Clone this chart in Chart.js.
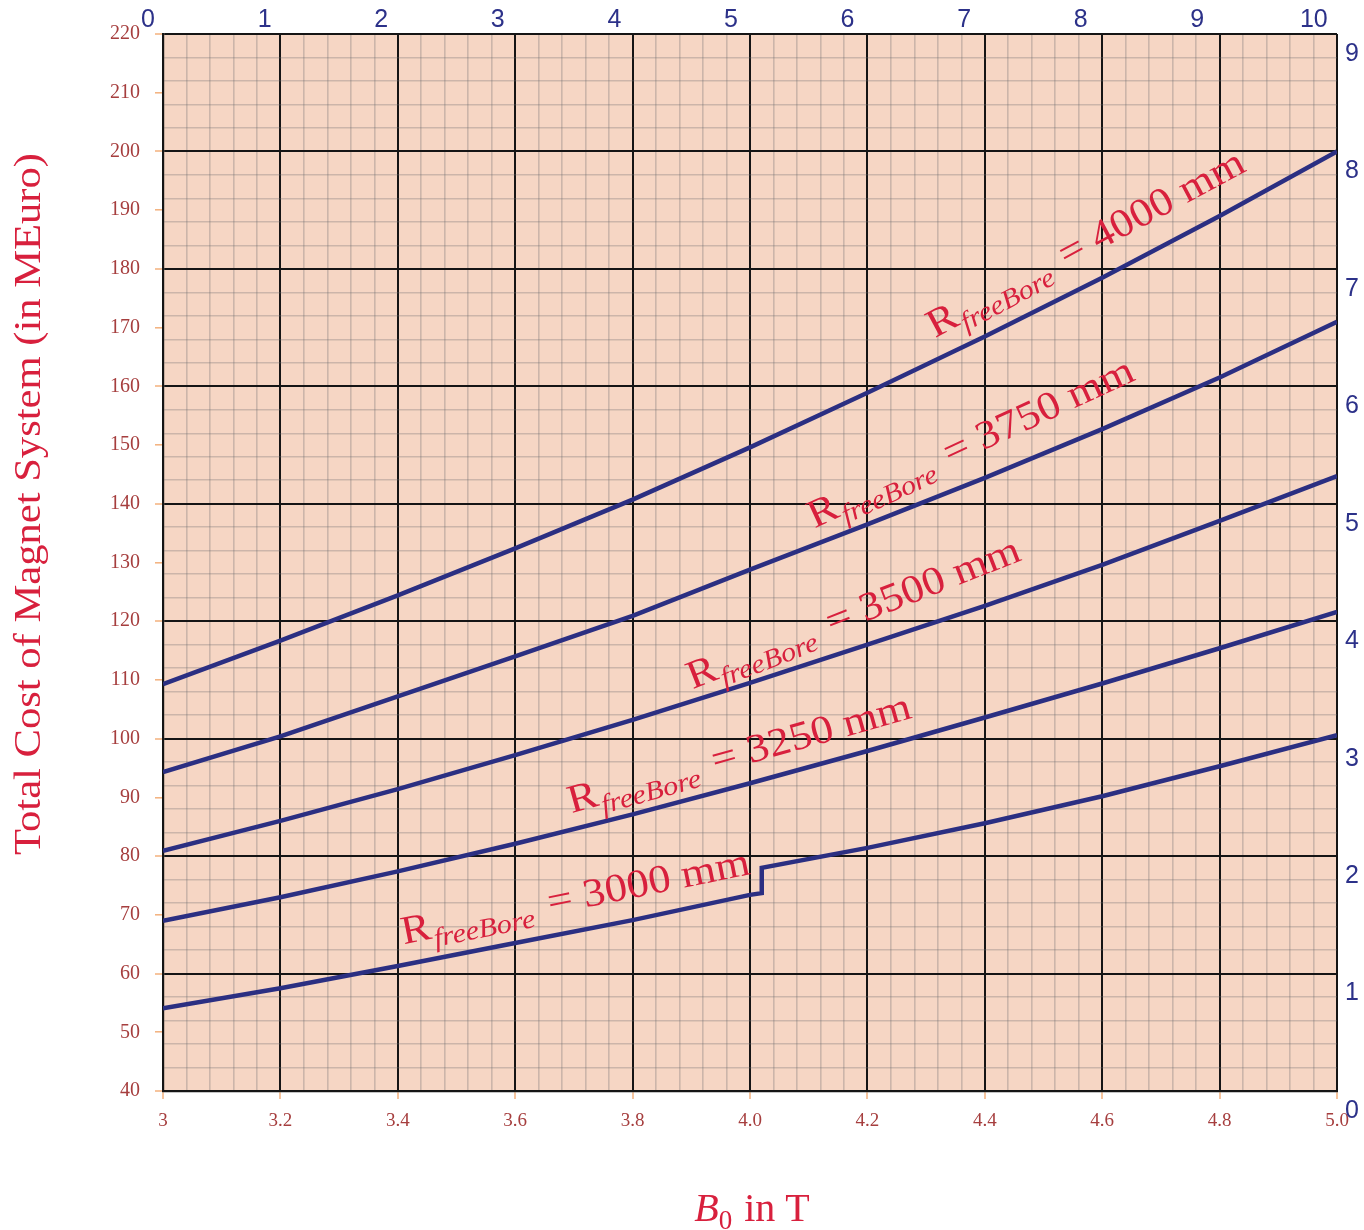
<!DOCTYPE html>
<html>
<head>
<meta charset="utf-8">
<title>Total Cost of Magnet System</title>
<script src="https://cdn.jsdelivr.net/npm/chart.js@4.4.1/dist/chart.umd.min.js"></script>
<style>
  html, body { margin: 0; padding: 0; background: #ffffff; }
  #wrap { width: 1364px; height: 1230px; }
</style>
</head>
<body>
<div id="wrap"><canvas id="chart" width="1364" height="1230"></canvas></div>
<script>
// Magnetic field B0 (T) sampled for each bore radius
const bField = [3.0, 3.2, 3.4, 3.6, 3.8, 4.0, 4.2, 4.4, 4.6, 4.8, 5.0];

// Total cost (MEuro) for each free bore radius
const cost4000 = [109.3, 116.7, 124.4, 132.4, 140.7, 149.6, 158.9, 168.5, 178.5, 189.0, 200.0];
const cost3750 = [94.3, 100.4, 107.2, 114.0, 120.9, 128.8, 136.5, 144.4, 152.7, 161.5, 171.0];
const cost3500 = [80.9, 86.0, 91.4, 97.2, 103.2, 109.5, 116.0, 122.6, 129.6, 137.1, 144.7];
const cost3250 = [69.0, 73.0, 77.4, 82.1, 87.1, 92.4, 97.9, 103.6, 109.4, 115.4, 121.6];

// The 3000 mm design jumps in cost just above 4 T
const bField3000 = [3.0, 3.2, 3.4, 3.6, 3.8, 4.0, 4.02, 4.02, 4.2, 4.4, 4.6, 4.8, 5.0];
const cost3000 = [54.1, 57.5, 61.3, 65.2, 69.1, 73.4, 73.7, 78.0, 81.4, 85.6, 90.2, 95.3, 100.6];

const boreRadii = ['4000', '3750', '3500', '3250', '3000'];

// Tick labels
const costTickLabels = ['40', '50', '60', '70', '80', '90', '100', '110', '120', '130', '140', '150', '160', '170', '180', '190', '200', '210', '220'];
const fieldTickLabels = ['3', '3.2', '3.4', '3.6', '3.8', '4.0', '4.2', '4.4', '4.6', '4.8', '5.0'];
const topTickLabels = ['0', '1', '2', '3', '4', '5', '6', '7', '8', '9', '10'];
const rightTickLabels = ['0', '1', '2', '3', '4', '5', '6', '7', '8', '9'];

// Curve label placement (data coordinates of the label start, and text angle)
const labelPlacement = [
  { x: 4.315, y: 168.2, angle: 28.2 },
  { x: 4.11, y: 135.8, angle: 24.8 },
  { x: 3.902, y: 108.4, angle: 21.4 },
  { x: 3.696, y: 87.3, angle: 15.6 },
  { x: 3.41, y: 65.0, angle: 11.4 }
];

const NAVY = '#2b2f82';
const CRIMSON = '#d8203d';
const TICK_RED = '#a63e3e';
const AXIS_BLUE = '#2c3189';
const ORANGE = '#f3b07c';
const PEACH = '#f6d6c4';
const SERIF = '"Liberation Serif", "Times New Roman", serif';
const SANS = '"Liberation Sans", Arial, sans-serif';

const isMultiple = (v, step) => Math.abs(v / step - Math.round(v / step)) < 1e-6;
const toPoints = (xs, ys) => xs.map((x, i) => ({ x: x, y: ys[i] }));

const curveStyle = {
  borderColor: NAVY,
  borderWidth: 4.5,
  pointRadius: 0,
  fill: false,
  tension: 0,
  borderJoinStyle: 'miter',
  borderCapStyle: 'butt'
};

const seriesValues = [cost4000, cost3750, cost3500, cost3250];
const datasets = seriesValues.map((vals, i) => Object.assign({
  label: 'R freeBore = ' + boreRadii[i] + ' mm',
  data: toPoints(bField, vals)
}, curveStyle));
datasets.push(Object.assign({
  label: 'R freeBore = ' + boreRadii[4] + ' mm',
  data: toPoints(bField3000, cost3000)
}, curveStyle));

// Peach plot background
const plotBackground = {
  id: 'plotBackground',
  beforeDraw(chart) {
    const { ctx, chartArea: a } = chart;
    ctx.save();
    ctx.fillStyle = PEACH;
    ctx.fillRect(a.left, a.top, a.right - a.left, a.bottom - a.top);
    ctx.restore();
  }
};

// Rotated curve labels "R_freeBore = N mm"
const curveLabels = {
  id: 'curveLabels',
  afterDatasetsDraw(chart) {
    const { ctx, scales: { x, y } } = chart;
    const targetLength = 355;
    ctx.save();
    ctx.fillStyle = CRIMSON;
    ctx.textBaseline = 'alphabetic';
    ctx.textAlign = 'left';
    labelPlacement.forEach((p, i) => {
      const main = '40px ' + SERIF;
      const sub = 'italic 27px ' + SERIF;
      const rest = ' = ' + boreRadii[i] + ' mm';
      ctx.font = main;
      const wR = ctx.measureText('R').width;
      const wRest = ctx.measureText(rest).width;
      ctx.font = sub;
      const wSub = ctx.measureText('freeBore').width;
      const total = wR + 1 + wSub + 4 + wRest;
      const sx = targetLength / total;
      ctx.save();
      ctx.translate(x.getPixelForValue(p.x), y.getPixelForValue(p.y));
      ctx.rotate(-p.angle * Math.PI / 180);
      ctx.scale(sx, 1);
      ctx.font = main;
      ctx.fillText('R', 0, 0);
      ctx.font = sub;
      ctx.fillText('freeBore', wR + 1, 9);
      ctx.font = main;
      ctx.fillText(rest, wR + 1 + wSub + 4, 0);
      ctx.restore();
    });
    ctx.restore();
  }
};

// Axis titles
const axisTitles = {
  id: 'axisTitles',
  afterDraw(chart) {
    const { ctx } = chart;
    ctx.save();
    ctx.fillStyle = CRIMSON;
    // vertical title
    const yTitle = 'Total Cost of Magnet System (in MEuro)';
    ctx.font = '38px ' + SERIF;
    const w = ctx.measureText(yTitle).width;
    ctx.translate(30, 504);
    ctx.rotate(-Math.PI / 2);
    ctx.scale(702 / w, 1);
    ctx.textAlign = 'center';
    ctx.textBaseline = 'middle';
    ctx.fillText(yTitle, 0, 0);
    ctx.restore();

    // horizontal title: B0 in T
    ctx.save();
    ctx.fillStyle = CRIMSON;
    ctx.textBaseline = 'alphabetic';
    ctx.textAlign = 'left';
    const fB = 'italic 40px ' + SERIF;
    const f0 = '27px ' + SERIF;
    const fT = '40px ' + SERIF;
    ctx.font = fB; const wB = ctx.measureText('B').width;
    ctx.font = f0; const w0 = ctx.measureText('0').width;
    ctx.font = fT; const wT = ctx.measureText(' in T').width;
    const tot = wB + w0 + 2 + wT;
    const x0 = 752 - tot / 2;
    const base = 1221;
    ctx.font = fB; ctx.fillText('B', x0, base);
    ctx.font = f0; ctx.fillText('0', x0 + wB, base + 8);
    ctx.font = fT; ctx.fillText(' in T', x0 + wB + w0 + 2, base);
    ctx.restore();
  }
};

const MAJOR = '#151515';
const MINOR = 'rgba(105, 105, 110, 0.3)';

new Chart(document.getElementById('chart'), {
  type: 'line',
  data: { datasets: datasets },
  options: {
    responsive: false,
    animation: false,
    devicePixelRatio: 1,
    layout: { padding: 0 },
    plugins: {
      legend: { display: false },
      tooltip: { enabled: false },
      title: { display: false }
    },
    scales: {
      x: {
        type: 'linear',
        position: 'bottom',
        min: 3,
        max: 5,
        afterFit: s => { s.height = 139; },
        border: { display: true, color: MAJOR, width: 2.2 },
        grid: {
          color: c => isMultiple(c.tick.value, 0.2) ? MAJOR : MINOR,
          lineWidth: c => isMultiple(c.tick.value, 0.2) ? 2 : 1.6,
          drawTicks: true,
          tickLength: 8,
          tickWidth: 1.5,
          tickColor: c => isMultiple(c.tick.value, 0.2) ? ORANGE : 'rgba(0,0,0,0)'
        },
        ticks: {
          stepSize: 0.04,
          autoSkip: false,
          maxTicksLimit: 1000,
          maxRotation: 0,
          minRotation: 0,
          padding: 11,
          color: TICK_RED,
          font: { family: SERIF, size: 19 },
          callback: v => isMultiple(v, 0.2) ? fieldTickLabels[Math.round((v - 3) / 0.2)] : ''
        }
      },
      y: {
        type: 'linear',
        position: 'left',
        min: 40,
        max: 220,
        afterFit: s => { s.width = 163; },
        border: { display: true, color: MAJOR, width: 2.2 },
        grid: {
          color: c => isMultiple(c.tick.value, 20) ? MAJOR : (isMultiple(c.tick.value, 4) ? MINOR : 'rgba(0,0,0,0)'),
          lineWidth: c => isMultiple(c.tick.value, 20) ? 2 : 1.6,
          drawTicks: true,
          tickLength: 8,
          tickWidth: 1.5,
          tickColor: c => isMultiple(c.tick.value, 10) ? ORANGE : 'rgba(0,0,0,0)'
        },
        ticks: {
          stepSize: 2,
          autoSkip: false,
          maxTicksLimit: 1000,
          padding: 15,
          color: TICK_RED,
          font: { family: SERIF, size: 20 },
          callback: v => isMultiple(v, 10) ? costTickLabels[Math.round((v - 40) / 10)] : ''
        }
      },
      x2: {
        type: 'linear',
        axis: 'x',
        position: 'top',
        min: 0,
        max: 10.07,
        afterFit: s => { s.height = 34; },
        border: { display: false },
        grid: { display: false, drawTicks: false },
        ticks: {
          stepSize: 1,
          includeBounds: false,
          autoSkip: false,
          maxRotation: 0,
          padding: -1,
          labelOffset: -15,
          color: AXIS_BLUE,
          font: { family: SANS, size: 25 },
          callback: v => topTickLabels[Math.round(v)]
        }
      },
      y2: {
        type: 'linear',
        axis: 'y',
        position: 'right',
        min: 0,
        max: 9,
        afterFit: s => { s.width = 27; },
        border: { display: false },
        grid: { display: false, drawTicks: false },
        ticks: {
          stepSize: 1,
          includeBounds: false,
          autoSkip: false,
          padding: 8,
          labelOffset: 20,
          color: AXIS_BLUE,
          font: { family: SANS, size: 25 },
          callback: v => rightTickLabels[Math.round(v)]
        }
      }
    }
  },
  plugins: [plotBackground, curveLabels, axisTitles]
});
</script>
</body>
</html>
